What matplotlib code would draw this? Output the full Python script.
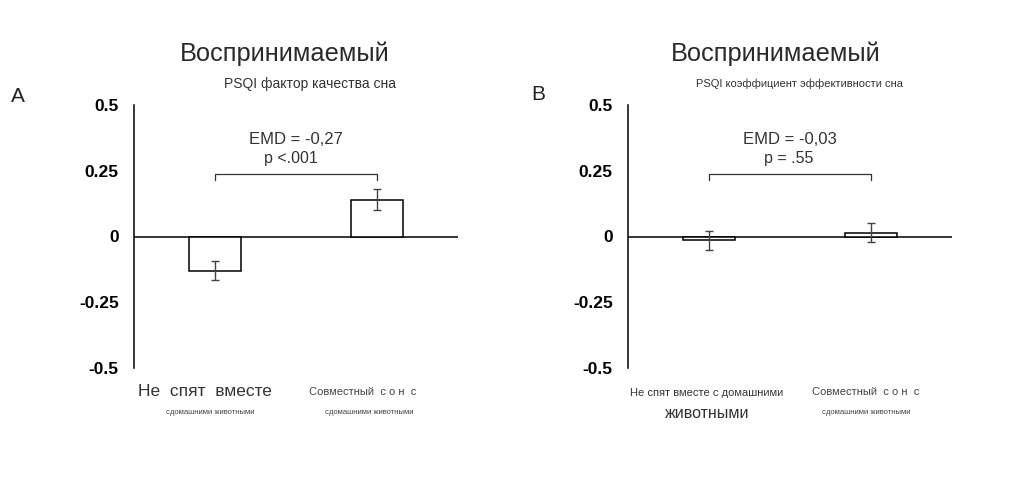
import matplotlib.pyplot as plt
from matplotlib import font_manager

# --- Данные ---
groups = ['Не спят вместе', 'Совместный сон']
means_a = [-0.13, 0.14]
errs_a = [0.035, 0.04]
means_b = [-0.015, 0.015]
errs_b = [0.035, 0.037]
yticks = [0.5, 0.25, 0, -0.25, -0.5]
ytick_labels = ['0.5', '0.25', '0', '-0.25', '-0.5']

emd_a, p_a = 'EMD = -0,27', 'p <.001'
emd_b, p_b = 'EMD = -0,03', 'p = .55'
bracket_y = 0.236

names = {f.name for f in font_manager.fontManager.ttflist}
NARROW = ['Liberation Sans Narrow', 'Liberation Sans'] if 'Liberation Sans Narrow' in names else ['Liberation Sans']
REG = ['Liberation Sans', 'DejaVu Sans']

plt.rcParams['font.family'] = REG

W, H = 1024, 479
fig = plt.figure(figsize=(W / 100, H / 100), dpi=100)
fig.patch.set_facecolor('white')


def px(x, y):
    return x / W, 1 - y / H


def panel(left_px, means, errs, emd, pval, emd_x, p_x):
    x0, y1 = px(left_px, 105)
    _, y0 = px(left_px, 368)
    ax = fig.add_axes([x0, y0, 324 / W, y1 - y0])
    pos = [1, 2]
    ax.bar(pos, means, width=0.315, color='white', edgecolor='black', linewidth=1.1, zorder=2)
    ax.errorbar(pos, means, yerr=errs, fmt='none', ecolor='#444444', elinewidth=1,
                capsize=3, capthick=1, zorder=3)
    ax.axhline(0, color='black', linewidth=1.1, zorder=1)
    ax.set_xlim(0.5, 2.5)
    ax.set_ylim(-0.5, 0.5)
    for s in ['top', 'right', 'bottom']:
        ax.spines[s].set_visible(False)
    ax.spines['left'].set_linewidth(1.1)
    ax.set_xticks([])
    ax.set_yticks(yticks)
    ax.set_yticklabels(ytick_labels, fontweight='bold', fontsize=12.5, color='black')
    ax.tick_params(axis='y', length=0, pad=11)
    # скобка сравнения
    ax.plot([1, 1, 2, 2], [bracket_y - 0.02, bracket_y, bracket_y, bracket_y - 0.02],
            color='#333333', linewidth=0.9, clip_on=False)
    ax.text(emd_x, 0.37, emd, ha='center', va='center', fontsize=12, color='#333333')
    ax.text(p_x, 0.295, pval, ha='center', va='center', fontsize=11.5, color='#333333')
    return ax


ax_a = panel(134, means_a, errs_a, emd_a, p_a, 1.50, 1.47)
ax_b = panel(628, means_b, errs_b, emd_b, p_b, 1.50, 1.49)

# заголовки
fig.text(*px(285, 54), 'Воспринимаемый', ha='center', va='center', fontsize=18.3, color='#2a2a2a')
fig.text(*px(310, 84), 'PSQI фактор качества сна', ha='center', va='center', fontsize=10,
         family=NARROW, color='#333333')
fig.text(*px(776, 54), 'Воспринимаемый', ha='center', va='center', fontsize=18.3, color='#2a2a2a')
fig.text(*px(800, 84), 'PSQI коэффициент эффективности сна', ha='center', va='center', fontsize=8,
         family=NARROW, color='#333333')
fig.text(*px(18, 96), 'A', ha='center', va='center', fontsize=15, color='#222222')
fig.text(*px(538, 95), 'B', ha='center', va='center', fontsize=15, color='#222222')

# подписи групп, панель A
fig.text(*px(205, 392), 'Не  спят  вместе', ha='center', va='center', fontsize=12.5, color='#333333')
fig.text(*px(210, 413), 'сдомашними животными', ha='center', va='center', fontsize=5.5,
         family=NARROW, color='#444444')
fig.text(*px(363, 392), 'Совместный  с о н  с', ha='center', va='center', fontsize=8,
         family=NARROW, color='#444444')
fig.text(*px(369, 412), 'сдомашними животными', ha='center', va='center', fontsize=5.5,
         family=NARROW, color='#444444')

# подписи групп, панель B
fig.text(*px(707, 393), 'Не спят вместе с домашними', ha='center', va='center', fontsize=8,
         family=NARROW, color='#333333')
fig.text(*px(707, 413), 'животными', ha='center', va='center', fontsize=11.5, color='#333333')
fig.text(*px(866, 392), 'Совместный  с о н  с', ha='center', va='center', fontsize=8,
         family=NARROW, color='#444444')
fig.text(*px(866, 412), 'сдомашними животными', ha='center', va='center', fontsize=5.5,
         family=NARROW, color='#444444')

fig.savefig('out.png', dpi=100, facecolor='white')
